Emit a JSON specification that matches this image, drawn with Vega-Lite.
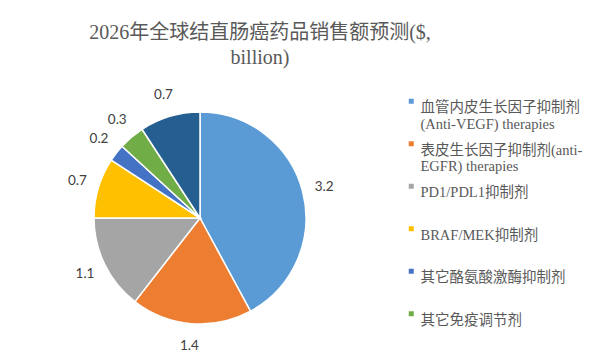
{
  "$schema": "https://vega.github.io/schema/vega-lite/v6.json",
  "autosize": "none",
  "width": 212,
  "height": 212,
  "padding": {"left": 94, "top": 112, "right": 298, "bottom": 40},
  "background": "white",
  "title": {
    "text": ["2026年全球结直肠癌药品销售额预测($,", "billion)"],
    "font": "Liberation Serif, Noto Sans CJK SC",
    "fontSize": 20,
    "fontWeight": "normal",
    "color": "#595959",
    "anchor": "middle",
    "frame": "group",
    "dx": 60,
    "offset": 20,
    "lineHeight": 25
  },
  "data": {
    "values": [
      {"name": "血管内皮生长因子抑制剂|(Anti-VEGF)  therapies", "value": 3.2, "idx": 1},
      {"name": "表皮生长因子抑制剂(anti-|EGFR) therapies", "value": 1.4, "idx": 2},
      {"name": "PD1/PDL1抑制剂", "value": 1.1, "idx": 3},
      {"name": "BRAF/MEK抑制剂", "value": 0.7, "idx": 4},
      {"name": "其它酪氨酸激酶抑制剂", "value": 0.2, "idx": 5},
      {"name": "其它免疫调节剂", "value": 0.3, "idx": 6},
      {"name": "其它", "value": 0.7, "idx": 7}
    ]
  },
  "encoding": {
    "theta": {"field": "value", "type": "quantitative", "stack": true},
    "order": {"field": "idx", "type": "quantitative"},
    "color": {
      "field": "name",
      "type": "nominal",
      "sort": null,
      "scale": {
        "domain": ["血管内皮生长因子抑制剂|(Anti-VEGF)  therapies", "表皮生长因子抑制剂(anti-|EGFR) therapies", "PD1/PDL1抑制剂", "BRAF/MEK抑制剂", "其它酪氨酸激酶抑制剂", "其它免疫调节剂", "其它"],
        "range": ["#5B9BD5", "#ED7D31", "#A5A5A5", "#FFC000", "#4472C4", "#70AD47", "#255E91"]
      },
      "legend": {
        "title": null,
        "orient": "none",
        "legendX": 310,
        "legendY": -18,
        "values": ["血管内皮生长因子抑制剂|(Anti-VEGF)  therapies", "表皮生长因子抑制剂(anti-|EGFR) therapies", "PD1/PDL1抑制剂", "BRAF/MEK抑制剂", "其它酪氨酸激酶抑制剂", "其它免疫调节剂"],
        "labelExpr": "split(datum.label, '|')",
        "gridAlign": "all",
        "symbolType": "square",
        "symbolSize": 25,
        "symbolStrokeWidth": 0,
        "labelFont": "Liberation Serif, Noto Sans CJK SC",
        "labelFontSize": 14.5,
        "labelColor": "#595959",
        "labelLimit": 200,
        "labelBaseline": "top",
        "labelLineHeight": 17,
        "rowPadding": 4.5,
        "labelOffset": 2
      }
    }
  },
  "layer": [
    {
      "mark": {"type": "arc", "outerRadius": 106, "stroke": "white", "strokeWidth": 1.5}
    },
    {
      "mark": {"type": "text", "radius": 128, "font": "Lato", "fontSize": 13.5, "fill": "#404040"},
      "encoding": {
        "text": {"field": "value", "type": "quantitative", "format": ".1f"},
        "color": {"value": "#404040"}
      }
    }
  ],
  "config": {"view": {"stroke": null}}
}
